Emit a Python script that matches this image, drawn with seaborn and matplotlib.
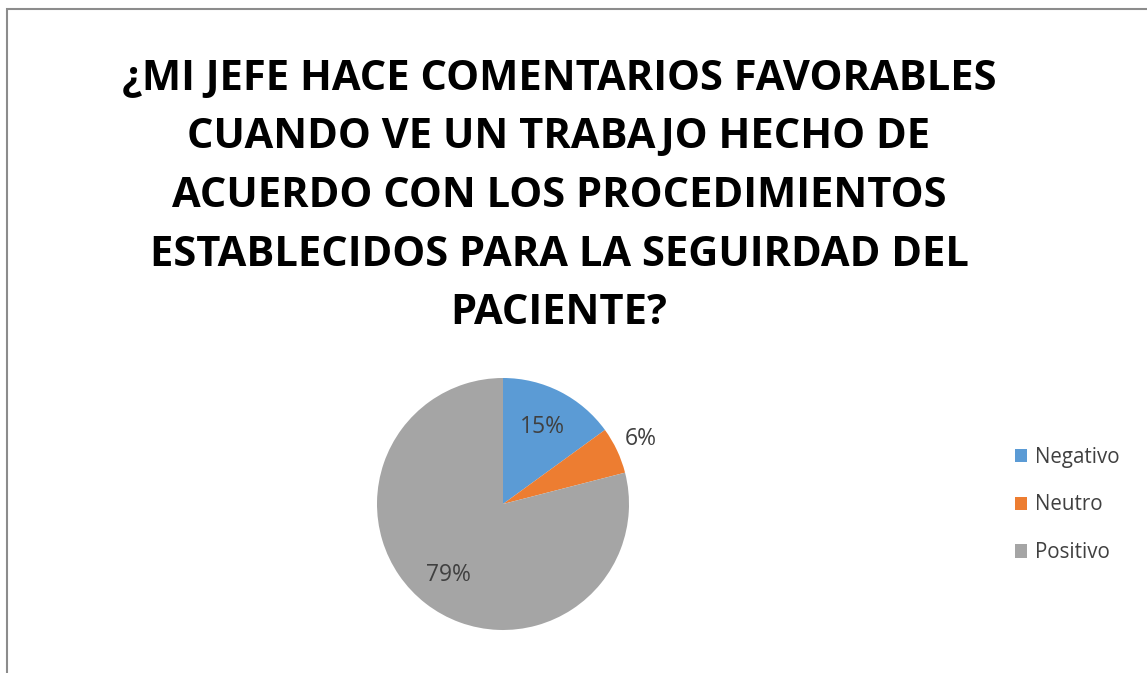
import matplotlib
matplotlib.use("Agg")
import matplotlib.pyplot as plt
from matplotlib.patches import Rectangle, Patch
import numpy as np
import seaborn as sns

# Survey answers
categories = ["Negativo", "Neutro", "Positivo"]
shares = [15, 6, 79]
title_lines = [
    "¿MI JEFE HACE COMENTARIOS FAVORABLES",
    "CUANDO VE UN TRABAJO HECHO DE",
    "ACUERDO CON LOS PROCEDIMIENTOS",
    "ESTABLECIDOS PARA LA SEGUIRDAD DEL",
    "PACIENTE?",
]

sns.set_theme(style="white")
plt.rcParams["font.family"] = ["Open Sans", "DejaVu Sans"]

colors = ["#5B9BD5", "#ED7D31", "#A5A5A5"]
text_color = "#404040"

W, H = 1147, 673
fig = plt.figure(figsize=(W / 100, H / 100), dpi=100)
fig.patch.set_facecolor("white")

# Outer chart-area frame (only top and left edges fall inside the canvas)
fig.patches.append(Rectangle((7 / W, -0.2), 1.3, 1.2 - 9 / H,
                             transform=fig.transFigure, fill=False,
                             edgecolor="#8C8C8C", linewidth=1.5))

# Title, one centred line at a time
line_y = [79, 138, 196, 255, 313]
for txt, y in zip(title_lines, line_y):
    fig.text(559 / W, 1 - y / H, txt, ha="center", va="center",
             fontsize=30, fontweight="bold", color="black")

# Pie axes: centre (503, 504) px, radius 126 px
cx, cy, r = 503, 504, 126
ax = fig.add_axes([(cx - r) / W, (H - cy - r) / H, 2 * r / W, 2 * r / H])
wedges, _ = ax.pie(shares, colors=colors, startangle=90, counterclock=False,
                   radius=1, wedgeprops=dict(linewidth=0))
ax.set_xlim(-1, 1)
ax.set_ylim(-1, 1)
ax.set_aspect("equal")
ax.axis("off")

# Percentage labels placed along each wedge's mid-angle
label_dist = [0.69, 1.21, 0.71]
for w, v, d in zip(wedges, shares, label_dist):
    ang = np.deg2rad((w.theta1 + w.theta2) / 2)
    ax.text(d * np.cos(ang), d * np.sin(ang), f"{v}%", ha="center", va="center",
            fontsize=16.5, color=text_color, clip_on=False)

# Legend
handles = [Patch(facecolor=c, edgecolor="none") for c in colors]
fig.legend(handles, categories, loc="center left",
           bbox_to_anchor=(996 / W, 1 - 505 / H), frameon=False,
           fontsize=14.8, handlelength=0.6, handleheight=0.6, handletextpad=0.4,
           labelspacing=1.3, labelcolor=text_color)

fig.savefig("out.png", dpi=100)
